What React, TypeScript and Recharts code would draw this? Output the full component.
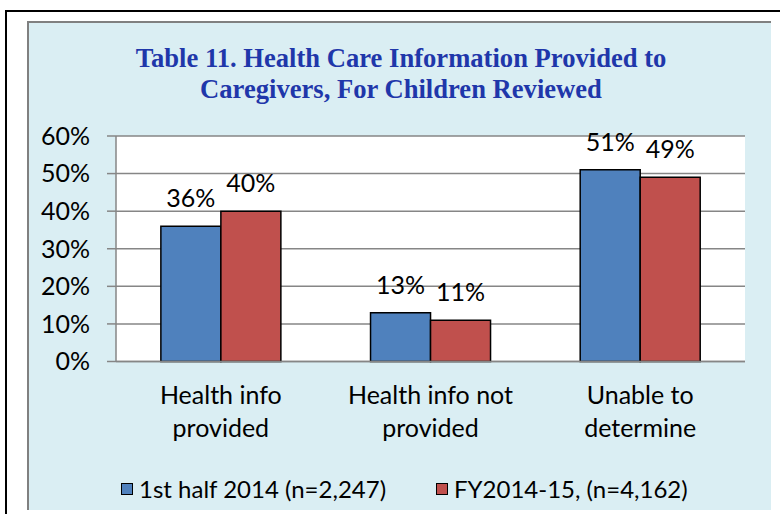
import React from 'react';
import { BarChart, Bar, XAxis, YAxis, CartesianGrid, LabelList, Legend } from 'recharts';

const categories = ['Health info provided', 'Health info not provided', 'Unable to determine'];
const firstHalf2014 = [36, 13, 51];
const fy2014to15 = [40, 11, 49];
const seriesNames = ['1st half 2014 (n=2,247)', 'FY2014-15, (n=4,162)'];
const yTicks = [0, 10, 20, 30, 40, 50, 60];
const edgeTicks = [0, 1, 2, 3];
const titleLines = ['Table 11. Health Care Information Provided to', 'Caregivers, For Children Reviewed'];

const BLUE = '#4F81BD';
const RED = '#C0504D';
const AXIS = '#868686';
const FONT = "Lato, 'Liberation Sans', sans-serif";
const FS = 25;

const data = categories.map((c, i) => ({ category: c, idx: i, a: firstHalf2014[i], b: fy2014to15[i] }));
const colorByKey: Record<string, string> = { a: BLUE, b: RED };

function wrap(text: string, maxChars: number): string[] {
  const words = text.split(' ');
  const lines: string[] = [];
  let cur = '';
  for (const w of words) {
    const next = cur ? cur + ' ' + w : w;
    if (next.length > maxChars && cur) {
      lines.push(cur);
      cur = w;
    } else {
      cur = next;
    }
  }
  if (cur) lines.push(cur);
  return lines;
}

const CategoryTick = (props: any) => {
  const { x, y, payload } = props;
  const lines = wrap(String(payload.value), 15);
  return (
    <text x={x} y={y} textAnchor="middle" fill="#000" fontFamily={FONT} fontSize={FS}>
      {lines.map((l, i) => (
        <tspan key={i} x={x} dy={i === 0 ? 42 : 33}>
          {l}
        </tspan>
      ))}
    </text>
  );
};

const LegendContent = (props: any) => {
  const payload = props.payload || [];
  return (
    <div style={{ display: 'flex', alignItems: 'center', fontFamily: FONT, fontSize: 24, color: '#000', whiteSpace: 'nowrap', lineHeight: '30px' }}>
      {payload.map((p: any, i: number) => (
        <div key={i} style={{ display: 'flex', alignItems: 'center', marginRight: i === 0 ? 50 : 0 }}>
          <span
            style={{
              display: 'inline-block',
              width: 10,
              height: 10,
              background: colorByKey[p.dataKey] || p.color,
              border: '1.5px solid #000',
              marginRight: 6,
            }}
          />
          <span>{p.value}</span>
        </div>
      ))}
    </div>
  );
};

export default function App() {
  return (
    <div style={{ position: 'fixed', left: 0, top: 0, width: 780, height: 514, background: '#fff', overflow: 'hidden' }}>
      <div style={{ position: 'absolute', left: 5, top: 10, width: 800, height: 600, border: '2px solid #000', boxSizing: 'border-box' }} />
      <div
        style={{
          position: 'absolute',
          left: 27,
          top: 21,
          width: 744,
          height: 489,
          background: '#DAEEF3',
          borderTop: '2px solid #808080',
          borderLeft: '2px solid #808080',
          boxSizing: 'border-box',
        }}
      />
      <div
        style={{
          position: 'absolute',
          left: 27,
          top: 43,
          width: 748,
          textAlign: 'center',
          fontFamily: "'Liberation Serif', 'Times New Roman', serif",
          fontWeight: 'bold',
          fontSize: 26.6,
          lineHeight: '31px',
          color: '#1F37AA',
        }}
      >
        {titleLines.map((t, i) => (
          <div key={i}>{t}</div>
        ))}
      </div>
      <div style={{ position: 'absolute', left: 0, top: 0 }}>
        <BarChart
          width={780}
          height={514}
          data={data}
          margin={{ top: 136, right: 35, bottom: 0, left: 0 }}
          barCategoryGap="21.4%"
          barGap={0}
        >
          <CartesianGrid vertical={false} stroke={AXIS} strokeWidth={1.5} fill="#fff" />
          <XAxis
            xAxisId="edge"
            type="number"
            dataKey="idx"
            domain={[0, 3]}
            ticks={edgeTicks}
            tick={false}
            tickSize={8}
            tickLine={{ stroke: AXIS, strokeWidth: 1.5 }}
            axisLine={false}
            height={0}
          />
          <XAxis
            dataKey="category"
            interval={0}
            tick={<CategoryTick />}
            tickLine={false}
            tickSize={0}
            tickMargin={0}
            axisLine={{ stroke: AXIS, strokeWidth: 1.5 }}
            height={152.5}
          />
          <YAxis
            width={116}
            domain={[0, 60]}
            ticks={yTicks}
            interval={0}
            tickFormatter={(v: number) => `${v}%`}
            tick={{ fill: '#000', fontSize: FS, fontFamily: FONT }}
            tickSize={9}
            tickMargin={17}
            tickLine={{ stroke: AXIS, strokeWidth: 1.5 }}
            axisLine={{ stroke: AXIS, strokeWidth: 1.5 }}
          />
          <Legend
            layout="horizontal"
            verticalAlign="middle"
            align="center"
            wrapperStyle={{ left: 121, top: 474, width: 'auto' }}
            content={<LegendContent />}
          />
          <Bar dataKey="a" name={seriesNames[0]} fill={BLUE} stroke="#000" strokeWidth={1.5} isAnimationActive={false}>
            <LabelList dataKey="a" position="top" offset={19} formatter={(v: any) => `${v}%`} fill="#000" fontSize={FS} fontFamily={FONT} />
          </Bar>
          <Bar dataKey="b" name={seriesNames[1]} fill={RED} stroke="#000" strokeWidth={1.5} isAnimationActive={false}>
            <LabelList dataKey="b" position="top" offset={19} formatter={(v: any) => `${v}%`} fill="#000" fontSize={FS} fontFamily={FONT} />
          </Bar>
        </BarChart>
      </div>
    </div>
  );
}
